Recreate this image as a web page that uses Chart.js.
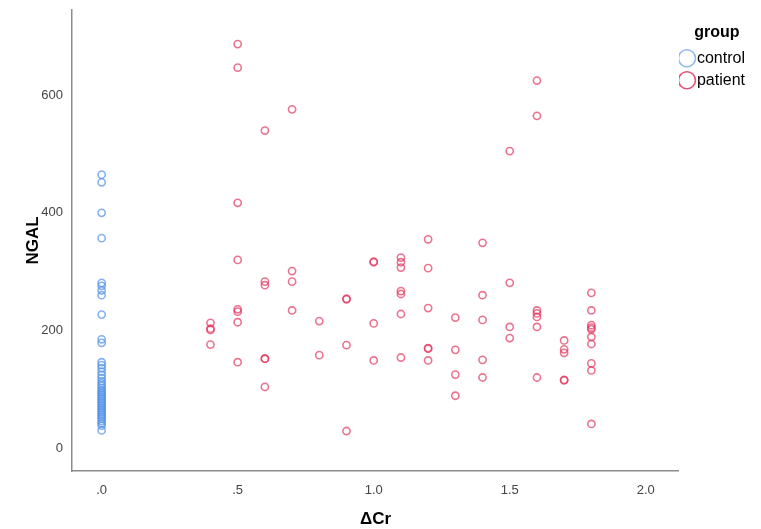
<!DOCTYPE html>
<html>
<head>
<meta charset="utf-8">
<script src="https://cdn.jsdelivr.net/npm/chart.js@4"></script>
<style>
  html, body { margin: 0; padding: 0; background: #fff; }
  #wrap { width: 761px; height: 529px; }
</style>
</head>
<body>
<div id="wrap"><canvas id="c" width="761" height="529"></canvas></div>
<script>
// ---- data ----
const seriesNames = ['control', 'patient'];
const controlX = [0,0,0,0,0,0,0,0,0,0,0,0,0,0,0,0,0,0,0,0,0,0,0,0,0,0,0,0,0,0,0,0,0,0,0,0,0,0,0,0,0,0];
const controlY = [465,452,400,357,281,276,268,260,227,185,179,146,141,136,130,124,119,114,110,106,102,98,95,92,89,86,83,80,77,74,71,68,65,62,59,56,53,50,46,42,38,30];
const patientX = [
  0.4,0.4,0.4,0.4,
  0.5,0.5,0.5,0.5,0.5,0.5,0.5,0.5,
  0.6,0.6,0.6,0.6,0.6,0.6,
  0.7,0.7,0.7,0.7,
  0.8,0.8,
  0.9,0.9,0.9,0.9,
  1.0,1.0,1.0,1.0,
  1.1,1.1,1.1,1.1,1.1,1.1,1.1,
  1.2,1.2,1.2,1.2,1.2,1.2,
  1.3,1.3,1.3,1.3,
  1.4,1.4,1.4,1.4,1.4,
  1.5,1.5,1.5,1.5,
  1.6,1.6,1.6,1.6,1.6,1.6,1.6,
  1.7,1.7,1.7,1.7,1.7,
  1.8,1.8,1.8,1.8,1.8,1.8,1.8,1.8,1.8,1.8
];
const patientY = [
  213,203,201,176,
  687,647,417,320,236,232,214,146,
  540,283,277,152,152,104,
  576,301,283,234,
  216,158,
  254,253,175,29,
  317,316,212,149,
  324,316,307,267,262,228,154,
  355,306,238,170,169,149,
  222,167,125,89,
  349,260,218,150,120,
  505,281,206,187,
  625,565,234,229,223,206,120,
  183,168,162,116,115,
  264,234,209,205,202,189,177,144,132,41
];
const xTickValues = [0, 0.5, 1.0, 1.5, 2.0];
const xTickLabels = ['.0', '.5', '1.0', '1.5', '2.0'];
const yTickValues = [0, 200, 400, 600];
const xTitle = 'ΔCr';
const yTitle = 'NGAL';
const legendTitle = 'group';

// ---- build ----
const toPts = (xs, ys) => xs.map((x, i) => ({ x: x, y: ys[i] }));
const FONT = '"Liberation Sans", Arial, sans-serif';

new Chart(document.getElementById('c'), {
  type: 'scatter',
  data: {
    datasets: [
      {
        label: seriesNames[0],
        data: toPts(controlX, controlY),
        borderColor: 'rgba(80,145,232,0.7)',
        backgroundColor: 'rgba(0,0,0,0)',
        pointRadius: 3.6,
        pointBorderWidth: 1.6,
        pointHoverRadius: 3.6
      },
      {
        label: seriesNames[1],
        data: toPts(patientX, patientY),
        borderColor: 'rgba(226,48,88,0.68)',
        backgroundColor: 'rgba(0,0,0,0)',
        pointRadius: 3.6,
        pointBorderWidth: 1.6,
        pointHoverRadius: 3.6
      }
    ]
  },
  options: {
    responsive: false,
    animation: false,
    devicePixelRatio: 1,
    layout: { padding: { top: 10, left: 23, right: 6, bottom: 0 } },
    plugins: {
      tooltip: { enabled: false },
      legend: {
        position: 'right',
        align: 'start',
        title: {
          display: true,
          text: legendTitle,
          color: '#000',
          font: { family: FONT, size: 16, weight: 'bold' },
          padding: { top: 15, bottom: 0 }
        },
        labels: {
          usePointStyle: true,
          pointStyle: 'circle',
          boxWidth: 4,
          boxHeight: 12,
          padding: 6,
          color: '#000',
          font: { family: FONT, size: 16 },
          generateLabels: (chart) => chart.data.datasets.map((ds, i) => ({
            text: ds.label,
            fillStyle: 'rgba(0,0,0,0)',
            strokeStyle: i === 0 ? 'rgb(140,185,240)' : 'rgb(230,80,115)',
            lineWidth: 1.6,
            pointStyle: 'circle',
            datasetIndex: i,
            hidden: false,
            fontColor: '#000'
          }))
        }
      }
    },
    scales: {
      x: {
        type: 'linear',
        min: -0.109,
        max: 2.122,
        grid: { display: false, drawTicks: false },
        border: { display: true, color: '#8c8c8c', width: 1.5 },
        afterBuildTicks: (scale) => { scale.ticks = xTickValues.map(v => ({ value: v })); },
        afterFit: (scale) => { scale.height = 58; scale.paddingLeft = 0; scale.paddingRight = 0; },
        ticks: {
          color: '#444',
          font: { family: FONT, size: 13 },
          padding: 12,
          maxRotation: 0,
          callback: (v) => { const i = xTickValues.indexOf(v); return i >= 0 ? xTickLabels[i] : ''; }
        },
        title: {
          display: true,
          text: xTitle,
          color: '#000',
          font: { family: FONT, size: 17, weight: 'bold', lineHeight: 1 },
          padding: { top: 0, bottom: 1 }
        }
      },
      y: {
        type: 'linear',
        min: -39,
        max: 745,
        grid: { display: false, drawTicks: false },
        border: { display: true, color: '#8c8c8c', width: 1.5 },
        afterBuildTicks: (scale) => { scale.ticks = yTickValues.map(v => ({ value: v })); },
        afterFit: (scale) => { scale.width = 49; scale.paddingTop = 0; scale.paddingBottom = 0; },
        ticks: {
          color: '#444',
          font: { family: FONT, size: 13 },
          padding: 9,
          callback: (v) => String(v)
        },
        title: {
          display: true,
          text: yTitle,
          color: '#000',
          font: { family: FONT, size: 17, weight: 'bold' },
          padding: { top: 0, bottom: 1 }
        }
      }
    }
  }
});
</script>
</body>
</html>
